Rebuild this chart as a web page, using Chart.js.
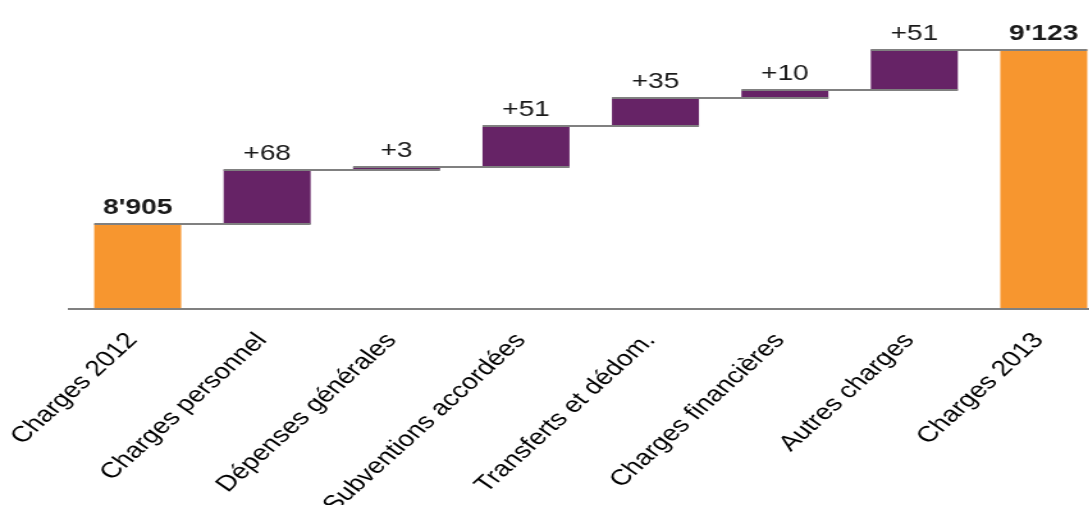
<!DOCTYPE html>
<html>
<head>
<meta charset="utf-8">
<script src="https://cdn.jsdelivr.net/npm/chart.js@4"></script>
<style>
    html, body { margin: 0; padding: 0; background: #fff; overflow: hidden; }
    /* the reference is stretched horizontally, so the whole chart is too */
    #wrap { width: 866px; height: 505px; transform: scaleX(1.28); transform-origin: 0 0; }
</style>
</head>
<body>
<div id="wrap"><canvas id="chart" width="866" height="505"></canvas></div>
<script>
const categories = ['Charges 2012', 'Charges personnel', 'Dépenses générales', 'Subventions accordées',
    'Transferts et dédom.', 'Charges financières', 'Autres charges', 'Charges 2013'];
const values = [8905, 68, 3, 51, 35, 10, 51, 9123];
const kinds = ['total', 'delta', 'delta', 'delta', 'delta', 'delta', 'delta', 'total'];

const Y_MIN = 8800;
const Y_MAX = 9185;
const ORANGE = '#F7962F';
const PURPLE = '#662366';
const GREY = '#808080';
const FONT = "'Liberation Sans', Arial, sans-serif";

// build floating ranges for the waterfall
let running = 0;
const ranges = values.map((v, i) => {
    if (kinds[i] === 'total') {
        running = v;
        return [Y_MIN, v];
    }
    const r = [running, running + v];
    running += v;
    return r;
});

function fmt(v, kind) {
    const s = String(v).replace(/\B(?=(\d{3})+(?!\d))/g, "'");
    return kind === 'total' ? s : '+' + s;
}

const waterfallExtras = {
    id: 'waterfallExtras',
    afterDatasetsDraw(chart) {
        const ctx = chart.ctx;
        const bars = chart.getDatasetMeta(0).data;
        const area = chart.chartArea;

        ctx.save();
        ctx.strokeStyle = GREY;
        ctx.lineWidth = 2;

        // connectors: top of bar i runs from its left edge to right edge of bar i+1
        for (let i = 0; i < bars.length - 1; i++) {
            const a = bars[i], b = bars[i + 1];
            const y = Math.round(Math.min(a.y, a.base));
            ctx.beginPath();
            ctx.moveTo(a.x - a.width / 2, y);
            ctx.lineTo(b.x + b.width / 2, y);
            ctx.stroke();
        }

        // x axis line
        ctx.beginPath();
        ctx.moveTo(53, area.bottom + 1);
        ctx.lineTo(chart.width, area.bottom + 1);
        ctx.stroke();

        // value labels
        ctx.fillStyle = '#1a1a1a';
        ctx.textAlign = 'center';
        ctx.textBaseline = 'alphabetic';
        bars.forEach((bar, i) => {
            const top = Math.min(bar.y, bar.base);
            ctx.font = (kinds[i] === 'total' ? 'bold ' : '') + '22px ' + FONT;
            ctx.fillText(fmt(values[i], kinds[i]), bar.x, top - 10);
        });
        ctx.restore();
    }
};

new Chart(document.getElementById('chart'), {
    type: 'bar',
    data: {
        labels: categories,
        datasets: [{
            data: ranges,
            backgroundColor: kinds.map(k => k === 'total' ? ORANGE : PURPLE),
            borderWidth: 0,
            barPercentage: 0.672,
            categoryPercentage: 1
        }]
    },
    options: {
        responsive: false,
        animation: false,
        layout: { padding: { left: 57, right: 0, top: 0, bottom: 0 } },
        plugins: { legend: { display: false }, tooltip: { enabled: false } },
        scales: {
            x: {
                grid: { display: false, drawTicks: false },
                border: { display: false },
                ticks: {
                    autoSkip: false,
                    minRotation: 49,
                    maxRotation: 49,
                    padding: 20,
                    labelOffset: -4,
                    color: '#000',
                    font: { family: FONT, size: 22 }
                },
                afterFit(scale) {
                    scale.height = 505 - 308;
                    scale.paddingLeft = 0;
                    scale.paddingRight = 0;
                }
            },
            y: {
                display: false,
                min: Y_MIN,
                max: Y_MAX
            }
        }
    },
    plugins: [waterfallExtras]
});
</script>
</body>
</html>
